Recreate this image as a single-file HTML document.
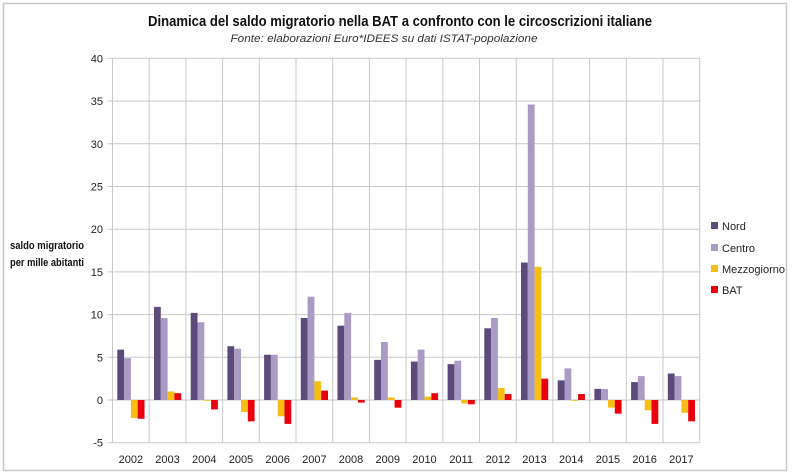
<!DOCTYPE html>
<html><head><meta charset="utf-8"><style>
html,body{margin:0;padding:0;background:#fff;}
svg{display:block;font-family:"Liberation Sans Narrow","Liberation Sans",sans-serif;}
</style></head><body>
<svg width="800" height="476" viewBox="0 0 800 476" xmlns="http://www.w3.org/2000/svg">
<rect x="0" y="0" width="800" height="476" fill="#fff"/>
<rect x="3.5" y="3.5" width="783" height="467" fill="none" stroke="#c8c8c8" stroke-width="1.5"/>
<text x="400" y="26" text-anchor="middle" font-size="15" font-weight="bold" fill="#111" textLength="504" lengthAdjust="spacingAndGlyphs">Dinamica del saldo migratorio nella BAT a confronto  con le circoscrizioni italiane</text>
<text x="384" y="42" text-anchor="middle" font-size="11" font-style="italic" fill="#333" textLength="307" lengthAdjust="spacingAndGlyphs">Fonte: elaborazioni  Euro*IDEES su dati ISTAT-popolazione</text>
<text x="47" y="249" text-anchor="middle" font-size="11" font-weight="bold" fill="#111" textLength="74" lengthAdjust="spacingAndGlyphs">saldo migratorio</text>
<text x="47" y="266" text-anchor="middle" font-size="11" font-weight="bold" fill="#111" textLength="74" lengthAdjust="spacingAndGlyphs">per mille abitanti</text>
<g id="grid" stroke="#c9c9c9" stroke-width="1"></g>
<g id="bars"></g>
<g id="labels" font-size="11" fill="#222"></g>
<g font-size="11" fill="#222">
<rect x="711" y="222" width="7" height="7" fill="#5b4a7a"/><text x="722" y="230">Nord</text>
<rect x="711" y="244" width="7" height="7" fill="#a99bc4"/><text x="722" y="252">Centro</text>
<rect x="711" y="265" width="7" height="7" fill="#f6bd16"/><text x="722" y="273">Mezzogiorno</text>
<rect x="711" y="286" width="7" height="7" fill="#e8000b"/><text x="722" y="294">BAT</text>
</g>
</svg>
<script>
var ns="http://www.w3.org/2000/svg";
function el(p,t,a,txt){var e=document.createElementNS(ns,t);for(var k in a)e.setAttribute(k,a[k]);if(txt!==undefined)e.textContent=txt;p.appendChild(e);return e;}
var x0=112.5,cw=36.7,zero=400,pu=8.54;
var g=document.getElementById('grid'),b=document.getElementById('bars'),l=document.getElementById('labels');
for(var v=-5;v<=40;v+=5){var y=zero-v*pu;el(g,'line',{x1:x0-5,x2:x0+16*cw,y1:y,y2:y});el(l,'text',{x:103,y:y+4,'text-anchor':'end'},String(v));}
for(var i=0;i<=16;i++){var x=x0+i*cw;el(g,'line',{x1:x,x2:x,y1:zero-40*pu,y2:zero+5*pu});}
var data=[
[5.9,10.9,10.2,6.3,5.3,9.6,8.7,4.7,4.5,4.2,8.4,16.1,2.3,1.3,2.1,3.1],
[4.9,9.6,9.1,6.0,5.3,12.1,10.2,6.8,5.9,4.6,9.6,34.6,3.7,1.3,2.8,2.8],
[-2.1,1.0,-0.1,-1.4,-1.9,2.2,0.3,0.3,0.4,-0.4,1.4,15.6,-0.1,-0.9,-1.2,-1.5],
[-2.2,0.8,-1.1,-2.5,-2.8,1.1,-0.3,-0.9,0.8,-0.5,0.7,2.5,0.7,-1.6,-2.8,-2.5]];
var cols=['#5b4a7a','#a99bc4','#f6bd16','#e8000b'];
for(var i=0;i<16;i++){
 for(var s=0;s<4;s++){var v=data[s][i];var x=x0+i*cw+4.8+s*6.8;var y=v>=0?zero-v*pu:zero;
  el(b,'rect',{x:x,y:y,width:6.8,height:Math.abs(v)*pu,fill:cols[s]});}
 el(l,'text',{x:x0+i*cw+cw/2,y:463,'text-anchor':'middle'},String(2002+i));
}
</script>
</body></html>
